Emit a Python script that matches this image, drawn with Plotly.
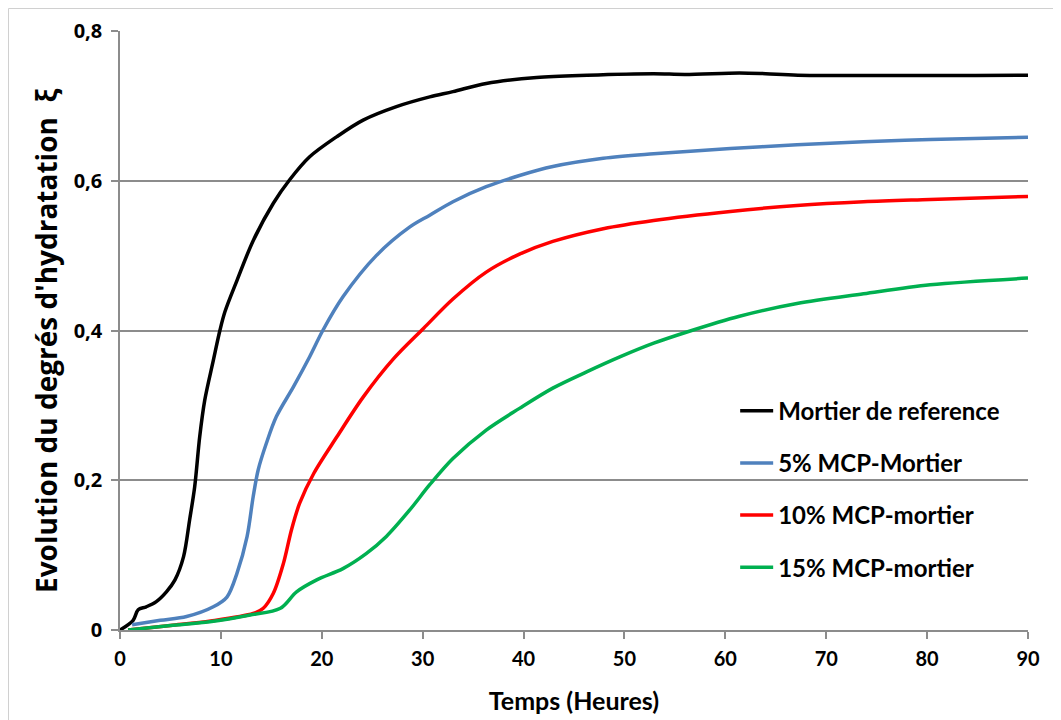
import plotly.graph_objects as go

# --- data ---
ref_x = [0, 1.3, 1.8, 2.6, 3.6, 4.6, 5.45, 6.3, 6.9, 7.4, 7.9, 8.4, 9.25, 9.9, 10.4, 11.6, 13.2, 15.2,
         16.8, 18.8, 21.5, 24.1, 27.4, 30.7, 33.0, 36.3, 41.3, 46.3, 52.9, 56.0, 61.4, 64.0, 67.2, 90]
ref_y = [0, 0.013, 0.027, 0.031, 0.038, 0.051, 0.067, 0.098, 0.147, 0.191, 0.258, 0.307, 0.360, 0.400,
         0.425, 0.467, 0.520, 0.570, 0.601, 0.632, 0.659, 0.681, 0.699, 0.712, 0.719, 0.730, 0.738,
         0.741, 0.743, 0.742, 0.744, 0.743, 0.741, 0.741]

mcp5_x = [1.2, 4.0, 6.6, 9.25, 10.6, 11.6, 12.6, 13.2, 13.7, 14.5, 15.5, 17.2, 18.8, 20.1, 22.1,
          25.4, 28.7, 30.7, 33.0, 36.3, 39.6, 42.9, 47.9, 52.9, 60.5, 67.1, 73.7, 80.3, 90]
mcp5_y = [0.007, 0.013, 0.018, 0.031, 0.044, 0.076, 0.125, 0.178, 0.214, 0.249, 0.285, 0.325, 0.365,
          0.400, 0.445, 0.500, 0.538, 0.554, 0.572, 0.592, 0.607, 0.619, 0.630, 0.636, 0.643, 0.648,
          0.652, 0.655, 0.658]

mcp10_x = [0.8, 5, 9, 13.2, 14.2, 15.2, 16.2, 17.0, 17.8, 19.2, 21.5, 24.1, 27.1, 30.1, 33.0, 36.3,
           39.6, 42.9, 47.9, 52.9, 60.5, 67.1, 73.7, 80.3, 90]
mcp10_y = [0, 0.006, 0.012, 0.022, 0.029, 0.049, 0.089, 0.134, 0.169, 0.209, 0.258, 0.311, 0.362,
           0.403, 0.442, 0.478, 0.502, 0.519, 0.536, 0.547, 0.559, 0.567, 0.572, 0.575, 0.579]

mcp15_x = [0.8, 5, 8.9, 12.9, 15.9, 17.5, 19.5, 22.1, 24.4, 26.4, 28.7, 30.7, 33.0, 36.3, 39.6,
           42.9, 46.3, 49.6, 52.9, 56.2, 61.4, 67.1, 73.7, 80.3, 90]
mcp15_y = [0, 0.006, 0.011, 0.020, 0.029, 0.051, 0.067, 0.082, 0.102, 0.125, 0.160, 0.194, 0.229,
           0.267, 0.296, 0.323, 0.345, 0.365, 0.383, 0.398, 0.419, 0.436, 0.449, 0.461, 0.470]

series_names = ["Mortier de reference", "5% MCP-Mortier", "10% MCP-mortier", "15% MCP-mortier"]
series_colors = ["#000000", "#4F81BD", "#FF0000", "#00B050"]

x_ticks = [0, 10, 20, 30, 40, 50, 60, 70, 80, 90]
y_ticks = [0, 0.2, 0.4, 0.6, 0.8]
y_tick_labels = ["0", "0,2", "0,4", "0,6", "0,8"]

FONT = "Lato"
AXIS_GRAY = "#8c8c8c"

fig = go.Figure()
series = [(ref_x, ref_y), (mcp5_x, mcp5_y), (mcp10_x, mcp10_y), (mcp15_x, mcp15_y)]
for i, ((xs, ys), name, col) in enumerate(zip(series, series_names, series_colors)):
    fig.add_trace(go.Scatter(
        x=xs, y=ys, name=name, mode="lines",
        line=dict(color=col, width=3.5, shape="spline", smoothing=0.9),
        legendgroup=f"g{i}",
    ))

fig.update_layout(
    width=1061, height=720,
    margin=dict(l=112, r=41, t=23, b=98),
    paper_bgcolor="white", plot_bgcolor="white",
    font=dict(family=FONT, size=20, color="black"),
    showlegend=True,
    legend=dict(
        x=0.6775, y=0.403, xanchor="left", yanchor="top",
        font=dict(family=FONT, size=24, color="black", weight="bold"),
        tracegroupgap=18, bgcolor="rgba(0,0,0,0)",
        itemwidth=33,
    ),
    xaxis=dict(
        range=[0, 90], tickvals=x_ticks, ticktext=[str(v) for v in x_ticks],
        showgrid=False, zeroline=False, showline=True, linecolor=AXIS_GRAY, linewidth=1.5,
        ticks="outside", ticklen=7, tickcolor=AXIS_GRAY, tickwidth=1.5,
        tickfont=dict(family=FONT, size=20, color="black", weight="bold"),
        ticklabelstandoff=3,
        title=dict(text="<b>Temps (Heures)</b>", font=dict(family=FONT, size=25), standoff=24),
        automargin=False,
    ),
    yaxis=dict(
        range=[0, 0.8], tickvals=y_ticks, ticktext=y_tick_labels,
        showgrid=True, gridcolor=AXIS_GRAY, gridwidth=1.5, zeroline=False,
        showline=True, linecolor=AXIS_GRAY, linewidth=1.5,
        ticks="outside", ticklen=7, tickcolor=AXIS_GRAY, tickwidth=1.5,
        tickfont=dict(family="Open Sans", size=20, color="black", weight="bold"),
        ticklabelstandoff=5,
        automargin=False,
    ),
    annotations=[dict(
        text="<b>Evolution du degrés d'hydratation  ξ</b>",
        xref="paper", yref="paper", x=(38 - 112) / 908, y=(622 - 333) / 599,
        xanchor="center", yanchor="middle", textangle=-90, showarrow=False,
        font=dict(family="Open Sans", size=28, color="black"),
    )],
    shapes=[dict(type="rect", xref="paper", yref="paper",
                 x0=(0.5 - 112) / 908, x1=1.3, y0=-0.5, y1=1 + (23 - 0.5) / 599,
                 line=dict(color="#d0d0d0", width=1), fillcolor="rgba(0,0,0,0)", layer="below")],
)

fig.write_html("out.html")
